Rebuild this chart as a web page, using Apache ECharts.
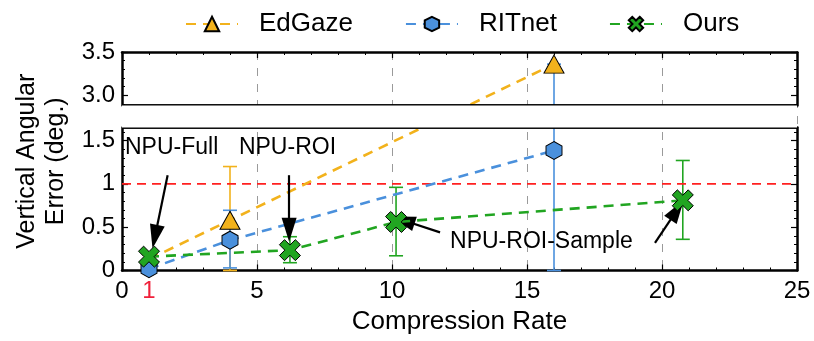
<!DOCTYPE html>
<html>
<head>
<meta charset="utf-8">
<script src="https://cdn.jsdelivr.net/npm/echarts@6/dist/echarts.min.js"></script>
<style>
  html, body { margin: 0; padding: 0; background: #fff; }
  #chart { width: 814px; height: 341px; }
</style>
</head>
<body>
<div id="chart"></div>
<script>
  // values
  const seriesNames = ['EdGaze', 'RITnet', 'Ours'];
  const edgaze = [[1, 0.13], [4, 0.58], [16, 3.36]];
  const ritnet = [[1, 0.02], [4, 0.35], [16, 1.385]];
  const ours = [[1, 0.16], [6.22, 0.235], [10.15, 0.56], [20.77, 0.81]];
  // [x, low, high]
  const edgazeErr = [[4, 0, 1.2]];
  const ritnetErr = [[4, 0.03, 0.695], [16, 0, 3.36]];
  const oursErr = [[6.22, 0.09, 0.39], [10.15, 0.17, 0.96], [20.77, 0.36, 1.27]];
  const thresholdLine = [[0, 1], [25, 1]];
  const xTickLabels = [0, 1, 5, 10, 15, 20, 25];
  const yTickLabels = [0, 0.5, 1, 1.5, 3.0, 3.5];
  const yMinorTicks = [0.1, 0.2, 0.3, 0.4, 0.6, 0.7, 0.8, 0.9, 1.1, 1.2, 1.3, 1.4, 1.6, 2.9, 3.1, 3.2, 3.3, 3.4];
  const yBreak = { start: 1.65, end: 2.88 };
  // annotation arrows: [fromX, fromY, toX, toY]
  const arrows = [
    [1.69, 1.1, 1.22, 0.39],
    [6.19, 1.1, 6.19, 0.47],
    [11.78, 0.44, 10.41, 0.58],
    [19.74, 0.32, 20.56, 0.7]
  ];
  const notes = [
    ['NPU-Full', 0.11, 1.42],
    ['NPU-ROI', 4.33, 1.42],
    ['NPU-ROI-Sample', 12.15, 0.33]
  ];

  const colors = { EdGaze: '#F2B21C', RITnet: '#4A90DC', Ours: '#21A521' };
  const hexPath = 'path://M0,-1 L0.866,-0.5 L0.866,0.5 L0,1 L-0.866,0.5 L-0.866,-0.5 Z';
  const xPath = 'path://M0.481,-0.933 L0.933,-0.481 L0.453,0 L0.933,0.481 L0.481,0.933 L0,0.453 L-0.481,0.933 L-0.933,0.481 L-0.453,0 L-0.933,-0.481 L-0.481,-0.933 L0,-0.453 Z';
  const font = '"Liberation Sans", Arial, Helvetica, sans-serif';

  const chart = echarts.init(document.getElementById('chart'));

  const errorBar = (data, color) => ({
    type: 'custom',
    data: data,
    z: 1,
    silent: true,
    encode: { x: 0, y: [1, 2] },
    renderItem: (params, api) => {
      const x = api.value(0);
      const lo = api.coord([x, api.value(1)]);
      const hi = api.coord([x, api.value(2)]);
      const w = 7;
      const style = { stroke: color, lineWidth: 1.6 };
      return {
        type: 'group',
        children: [
          { type: 'line', shape: { x1: lo[0], y1: lo[1], x2: hi[0], y2: hi[1] }, style },
          { type: 'line', shape: { x1: lo[0] - w, y1: lo[1], x2: lo[0] + w, y2: lo[1] }, style },
          { type: 'line', shape: { x1: hi[0] - w, y1: hi[1], x2: hi[0] + w, y2: hi[1] }, style }
        ]
      };
    }
  });

  const yAxisBase = () => ({
    type: 'value',
    min: 0,
    max: 3.5,
    breaks: [{ start: yBreak.start, end: yBreak.end, gap: '10%' }],
    breakArea: {
      show: true,
      itemStyle: { color: '#fff', borderColor: '#000', borderWidth: 2.5, borderType: 'solid', opacity: 1 },
      zigzagAmplitude: 0,
      zigzagZ: 100,
      expandOnClick: false
    },
    axisLine: { show: true, onZero: false, lineStyle: { color: '#000', width: 2.5 } },
    splitLine: { show: false }
  });

  const xAxisBase = () => ({
    type: 'value',
    min: 0,
    max: 25,
    interval: 5,
    axisLine: { show: true, onZero: false, lineStyle: { color: '#000', width: 2.5 } },
    axisTick: { show: true, inside: true, length: 6, lineStyle: { color: '#000', width: 1.2 } },
    minorTick: { show: true, splitNumber: 5, length: 3, lineStyle: { color: '#000', width: 1 } }
  });

  const yLabel = (v) => (v === 0 || v === 1 ? String(v) : v.toFixed(1));

  const option = {
    animation: false,
    textStyle: { fontFamily: font },
    legend: {
      data: seriesNames,
      left: 180,
      top: 6,
      itemWidth: 52,
      itemHeight: 18,
      itemGap: 52,
      textStyle: { fontSize: 26, color: '#000', fontFamily: font, padding: [0, 0, 0, 16] }
    },
    grid: { left: 122, right: 17, top: 52, bottom: 70.5 },
    xAxis: [
      Object.assign(xAxisBase(), {
        position: 'bottom',
        name: 'Compression Rate',
        nameLocation: 'middle',
        nameGap: 36,
        nameTextStyle: { fontSize: 26, color: '#000', fontFamily: font },
        axisLabel: {
          customValues: xTickLabels,
          fontSize: 24,
          color: '#000',
          margin: 9,
          fontFamily: font,
          formatter: (v) => (v === 1 ? '{r|1}' : String(v)),
          rich: { r: { color: '#F0203A', fontSize: 24, fontFamily: font } }
        },
        splitLine: { show: true, lineStyle: { color: '#9a9a9a', width: 1, type: [8, 8] } }
      }),
      Object.assign(xAxisBase(), {
        position: 'top',
        axisLabel: { show: false },
        splitLine: { show: false }
      })
    ],
    yAxis: [
      Object.assign(yAxisBase(), {
        position: 'left',
        name: 'Vertical Angular\nError (deg.)',
        nameLocation: 'middle',
        nameGap: 50,
        nameTextStyle: { fontSize: 25, color: '#000', lineHeight: 29, fontFamily: font },
        axisTick: { show: true, inside: true, length: 6, customValues: yTickLabels, lineStyle: { color: '#000', width: 1.2 } },
        axisLabel: {
          customValues: yTickLabels,
          fontSize: 24,
          color: '#000',
          margin: 7,
          fontFamily: font,
          formatter: yLabel
        }
      }),
      Object.assign(yAxisBase(), {
        position: 'right',
        axisTick: { show: true, inside: true, length: 6, customValues: yTickLabels, lineStyle: { color: '#000', width: 1.2 } },
        axisLabel: { show: false }
      }),
      Object.assign(yAxisBase(), {
        position: 'left',
        axisLine: { show: false, onZero: false },
        axisTick: { show: true, inside: true, length: 3, customValues: yMinorTicks, lineStyle: { color: '#000', width: 1 } },
        axisLabel: { show: false },
        breakArea: { show: false }
      }),
      Object.assign(yAxisBase(), {
        position: 'right',
        axisLine: { show: false, onZero: false },
        axisTick: { show: true, inside: true, length: 3, customValues: yMinorTicks, lineStyle: { color: '#000', width: 1 } },
        axisLabel: { show: false },
        breakArea: { show: false }
      })
    ],
    series: [
      errorBar(edgazeErr, colors.EdGaze),
      errorBar(ritnetErr, colors.RITnet),
      errorBar(oursErr, colors.Ours),
      {
        type: 'line',
        data: thresholdLine,
        symbol: 'none',
        silent: true,
        z: 2,
        lineStyle: { color: '#FF2020', width: 1.6, type: [9, 6] }
      },
      {
        name: 'EdGaze',
        type: 'line',
        z: 3,
        data: edgaze.map((d, i) => (i === 0 ? { value: d, symbol: 'none' } : d)),
        symbol: 'triangle',
        symbolSize: [20, 18],
        lineStyle: { color: colors.EdGaze, width: 2.6, type: [10, 7] },
        itemStyle: { color: colors.EdGaze, borderColor: '#000', borderWidth: 1 }
      },
      {
        name: 'RITnet',
        type: 'line',
        z: 4,
        data: ritnet,
        symbol: hexPath,
        symbolSize: [16, 18],
        lineStyle: { color: colors.RITnet, width: 2.6, type: [10, 7] },
        itemStyle: { color: colors.RITnet, borderColor: '#000', borderWidth: 1 }
      },
      {
        name: 'Ours',
        type: 'line',
        z: 5,
        data: ours,
        symbol: xPath,
        symbolSize: [21, 21],
        lineStyle: { color: colors.Ours, width: 2.6, type: [10, 7] },
        itemStyle: { color: colors.Ours, borderColor: '#000', borderWidth: 1 },
        markLine: {
          silent: true,
          symbol: ['none', 'triangle'],
          symbolSize: [15, 24],
          label: { show: false },
          lineStyle: { color: '#000', width: 2.2, type: 'solid' },
          itemStyle: { color: '#000' },
          data: arrows.map((a) => [{ coord: [a[0], a[1]] }, { coord: [a[2], a[3]] }])
        },
        markPoint: {
          silent: true,
          symbol: 'circle',
          symbolSize: 0,
          data: notes.map((n) => ({
            coord: [n[1], n[2]],
            label: {
              show: true,
              formatter: n[0],
              position: 'right',
              distance: 0,
              color: '#000',
              fontSize: 23,
              fontFamily: font
            }
          }))
        }
      }
    ]
  };

  chart.setOption(option);
</script>
</body>
</html>
